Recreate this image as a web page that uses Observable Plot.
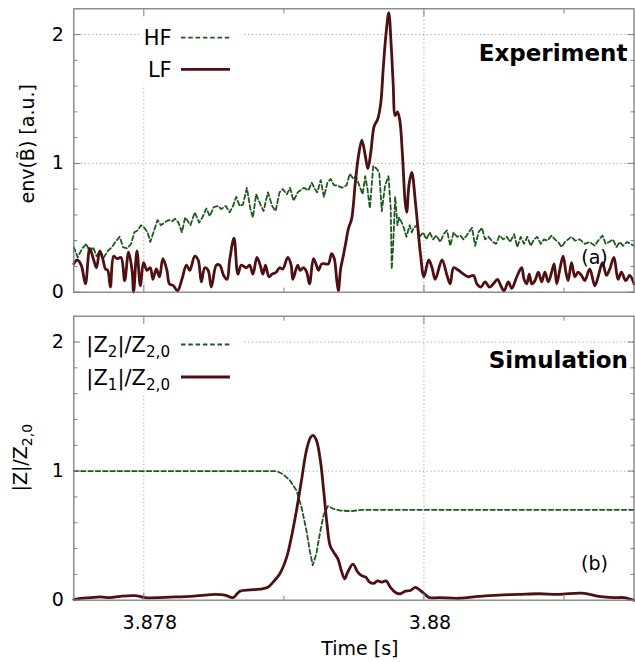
<!DOCTYPE html>
<html><head><meta charset="utf-8">
<script src="https://cdn.jsdelivr.net/npm/d3@7"></script>
<script src="https://cdn.jsdelivr.net/npm/@observablehq/plot@0.6"></script>
<style>
html,body{margin:0;padding:0;background:#fff;}
#chart{position:relative;width:635px;height:662px;background:#fff;}
#chart svg{position:absolute;left:0;}
</style></head><body><div id="chart"></div><script>
// ---------- data ----------
const xDomain = [3.8775, 3.8815];
const yDomain = [0, 2.2];
const xMajor = [3.878, 3.88];
const xMajorLabels = ["3.878", "3.88"];
const xMinor = [3.879, 3.881];
const yMajor = [0, 1, 2];
const yMajorLabels = ["0", "1", "2"];
const yMinor = [0.2, 0.4, 0.6, 0.8, 1.2, 1.4, 1.6, 1.8];
const yGrid = [1, 2];

// Experiment, LF (solid)
const lfTime = [3.8775,3.877524,3.877553,3.877583,3.877614,3.877642,3.877662,3.877685,3.877709,3.877726,
3.877742,3.877761,3.877785,3.877809,3.877837,3.877863,3.877891,3.877916,3.877927,3.877951,
3.877975,3.877998,3.878022,3.878046,3.878065,3.878089,3.878112,3.878136,3.878165,3.878183,
3.878212,3.87824,3.878272,3.878304,3.878328,3.878364,3.878388,3.878411,3.878435,3.878459,
3.878482,3.878518,3.878542,3.87857,3.878594,3.878613,3.878644,3.878672,3.878696,3.878731,
3.878755,3.878779,3.878807,3.878831,3.87885,3.878869,3.878893,3.878916,3.878945,3.878969,
3.878992,3.879028,3.879052,3.879064,3.879099,3.879116,3.87914,3.879163,3.879183,3.879211,
3.879229,3.879247,3.87927,3.879294,3.879318,3.879341,3.87936,3.879377,3.879389,3.879405,
3.879424,3.879443,3.87946,3.879484,3.87951,3.879533,3.879557,3.879581,3.8796,3.879621,
3.879645,3.879669,3.879692,3.879709,3.879728,3.879749,3.879765,3.87978,3.879795,3.879811,
3.879827,3.879847,3.879866,3.879877,3.879894,3.879913,3.879941,3.879975,3.88,3.880034,
3.880058,3.880081,3.880129,3.880165,3.880188,3.880212,3.880247,3.880283,3.880318,3.880354,
3.880378,3.880407,3.880437,3.880468,3.880496,3.880525,3.880549,3.880572,3.880603,3.880627,
3.880663,3.880698,3.880715,3.880734,3.880752,3.88077,3.880793,3.880817,3.880841,3.880864,
3.880888,3.880912,3.88093,3.880948,3.880971,3.880994,3.881014,3.88103,3.881054,3.881078,
3.881101,3.881125,3.881149,3.881184,3.88122,3.881244,3.881275,3.881303,3.881327,3.881357,
3.881386,3.88141,3.881441,3.881469,3.8815];
const lfValue = [0.22,0.25,0.21,0.065,0.34,0.25,0.19,0.32,0.25,0.18,
0.17,0.04,0.28,0.26,0.27,0.09,0.31,0.17,0,0.32,
0.05,0.23,0.17,0.19,0.10,0.18,0.12,0.26,0.17,0.065,
0.05,0.01,0.10,0.21,0.17,0.28,0.25,0.08,0.19,0.17,
0.04,0.21,0.21,0.13,0.10,0.25,0.42,0.14,0.21,0.19,
0.21,0.14,0.27,0.21,0.14,0.21,0.12,0.14,0.155,0.19,
0.18,0.27,0.21,0.10,0.21,0.17,0.19,0.155,0.065,0.26,
0.22,0.17,0.22,0.22,0.22,0.30,0.26,0.10,0.01,0.18,
0.28,0.39,0.49,0.57,0.85,1.06,1.18,1.06,0.96,1.09,
1.29,1.34,1.47,1.73,1.99,2.17,1.94,1.63,1.37,1.40,
1.34,1.06,0.70,0.62,0.84,0.93,0.68,0.30,0.12,0.25,
0.19,0.10,0.25,0.13,0.065,0.19,0.17,0.14,0.12,0.13,
0.065,0.04,0.08,0.04,0.065,0.10,0.05,0.01,0.08,0.03,
0.12,0.19,0.10,0.065,0.14,0.065,0.09,0.155,0.08,0.155,
0.08,0.155,0.22,0.065,0.18,0.28,0.155,0.09,0.23,0.12,
0.155,0.13,0.09,0.18,0.05,0.12,0.23,0.13,0.18,0.27,
0.10,0.155,0.09,0.13,0.065];

// Experiment, HF (dashed)
const hfTime = [3.8775,3.877528,3.87756,3.87759,3.877614,3.877638,3.877662,3.877685,3.877714,3.877742,
3.877773,3.877797,3.877827,3.877852,3.87788,3.877909,3.877932,3.877956,3.87798,3.878003,
3.878027,3.878046,3.878069,3.878098,3.878122,3.878146,3.878176,3.8782,3.878224,3.878247,
3.878272,3.878295,3.878309,3.878333,3.878364,3.878395,3.878418,3.878447,3.878471,3.878499,
3.87853,3.878553,3.878585,3.878613,3.878637,3.87866,3.878684,3.878708,3.878736,3.87876,
3.878779,3.878802,3.878831,3.878855,3.878886,3.878916,3.878941,3.878969,3.878992,3.879021,
3.879044,3.879069,3.879099,3.879116,3.879144,3.879175,3.879199,3.879222,3.879239,3.879263,
3.879286,3.879311,3.879334,3.879358,3.879382,3.879412,3.879448,3.879471,3.879496,3.879514,
3.879538,3.879562,3.879581,3.879597,3.879614,3.879638,3.879661,3.879681,3.879699,3.879723,
3.879747,3.879763,3.87977,3.87978,3.879795,3.879811,3.879823,3.879842,3.879859,3.879875,
3.879898,3.879913,3.879927,3.879951,3.87997,3.879994,3.880017,3.880041,3.880065,3.880089,
3.880117,3.88014,3.880165,3.880188,3.880212,3.880236,3.880259,3.880283,3.880311,3.880343,
3.880366,3.88039,3.880414,3.880437,3.880461,3.880492,3.880516,3.880539,3.880567,3.880592,
3.880615,3.880644,3.880667,3.880691,3.880715,3.880738,3.880762,3.880786,3.880809,3.880834,
3.880857,3.880881,3.880912,3.880935,3.880959,3.880983,3.881007,3.88103,3.881054,3.881078,
3.881113,3.881149,3.881184,3.88122,3.881244,3.881275,3.881298,3.881322,3.88135,3.881375,
3.881398,3.881422,3.88145,3.8815];
const hfValue = [0.35,0.27,0.34,0.375,0.31,0.35,0.28,0.32,0.27,0.32,
0.35,0.39,0.43,0.35,0.34,0.375,0.465,0.48,0.52,0.50,
0.465,0.39,0.465,0.56,0.52,0.54,0.56,0.55,0.57,0.54,
0.465,0.58,0.56,0.52,0.62,0.54,0.58,0.65,0.59,0.66,
0.67,0.645,0.67,0.62,0.67,0.74,0.67,0.68,0.81,0.65,
0.58,0.76,0.685,0.63,0.775,0.67,0.63,0.775,0.80,0.76,
0.81,0.71,0.775,0.79,0.81,0.79,0.85,0.80,0.775,0.87,
0.74,0.85,0.88,0.83,0.83,0.81,0.83,0.92,0.88,0.90,
0.83,0.76,0.90,0.80,0.65,0.98,0.96,0.93,0.63,0.83,
0.90,0.65,0.18,0.36,0.74,0.52,0.58,0.54,0.49,0.43,
0.52,0.465,0.50,0.52,0.43,0.465,0.41,0.465,0.41,0.44,
0.39,0.45,0.48,0.36,0.465,0.43,0.44,0.41,0.45,0.50,
0.36,0.465,0.50,0.41,0.43,0.39,0.375,0.44,0.41,0.43,
0.39,0.45,0.35,0.43,0.375,0.43,0.36,0.41,0.43,0.375,
0.41,0.40,0.44,0.41,0.39,0.35,0.39,0.41,0.43,0.40,
0.41,0.375,0.39,0.36,0.40,0.44,0.375,0.39,0.41,0.35,
0.39,0.36,0.39,0.36];

// Simulation, |Z2|/Z2,0 (dashed)
const z2Time = [3.8775,3.8789,3.878948,3.878995,3.879042,3.87909,3.879126,3.879161,3.879185,3.879206,
3.879232,3.879256,3.879284,3.879315,3.87935,3.879398,3.879481,3.879555,3.8815];
const z2Value = [1.0,1.0,1.0,0.975,0.93,0.85,0.72,0.54,0.385,0.27,
0.36,0.51,0.66,0.73,0.71,0.695,0.69,0.70,0.70];

// Simulation, |Z1|/Z2,0 (solid)
const z1Time = [3.8775,3.877548,3.877619,3.87769,3.877761,3.877832,3.877939,3.87801,3.878117,3.878224,
3.878331,3.878437,3.878509,3.87858,3.878637,3.878686,3.878758,3.878829,3.878886,3.878923,
3.878971,3.879019,3.879054,3.87909,3.879126,3.879161,3.87919,3.879208,3.879232,3.879261,
3.879284,3.879308,3.879331,3.879363,3.879386,3.87941,3.879434,3.879457,3.879493,3.879526,
3.879555,3.879583,3.879612,3.87964,3.879669,3.879697,3.879729,3.879761,3.879797,3.879832,
3.879868,3.879903,3.879939,3.879975,3.880003,3.880039,3.88011,3.880252,3.880395,3.880537,
3.880679,3.880822,3.880964,3.881128,3.881249,3.881355,3.881427,3.8815];
const z1Value = [0.005,0.015,0.02,0.025,0.02,0.03,0.035,0.02,0.02,0.025,
0.03,0.04,0.045,0.04,0.02,0.07,0.08,0.085,0.10,0.14,
0.205,0.33,0.49,0.695,0.93,1.16,1.26,1.277,1.24,1.08,
0.85,0.59,0.42,0.36,0.32,0.23,0.166,0.22,0.28,0.22,
0.19,0.18,0.14,0.13,0.15,0.14,0.15,0.10,0.06,0.05,
0.07,0.075,0.10,0.075,0.05,0.02,0.02,0.015,0.03,0.04,
0.045,0.05,0.045,0.055,0.03,0.02,0.02,0.0];

// ---------- style ----------
const hfColor = "#1d5a1d";
const lfColor = "#4e1012";
const gridColor = "#a0a0a0";
const frameColor = "#7c7c7c";
const FONT = "'DejaVu Sans', sans-serif";
const DASH = "4.5,2.8";

const zip = (T, V) => T.map((t, i) => ({t, v: V[i]}));

function axisMarks(showXLabels) {
  const tk = {fill: "none", stroke: frameColor, strokeWidth: 1, label: null};
  const m = [
    Plot.axisY({ticks: yMajor, anchor: "left", tickSize: 7, dx: 7, ...tk}),
    Plot.axisY({ticks: yMinor, anchor: "left", tickSize: 4, dx: 4, ...tk}),
    Plot.axisY({ticks: yMajor, anchor: "right", tickSize: 7, dx: -7, ...tk}),
    Plot.axisY({ticks: yMinor, anchor: "right", tickSize: 4, dx: -4, ...tk}),
    Plot.axisX({ticks: xMajor, anchor: "bottom", tickSize: 7, dy: -7, ...tk}),
    Plot.axisX({ticks: xMinor, anchor: "bottom", tickSize: 4, dy: -4, ...tk}),
    Plot.axisX({ticks: xMajor, anchor: "top", tickSize: 7, dy: 7, ...tk}),
    Plot.axisX({ticks: xMinor, anchor: "top", tickSize: 4, dy: 4, ...tk}),
    Plot.axisY({ticks: yMajor, anchor: "left", tickSize: 0, tickPadding: 10, label: null, fill: "#000", fontSize: 19,
      tickFormat: d => yMajorLabels[yMajor.indexOf(d)]})
  ];
  if (showXLabels) m.push(Plot.axisX({ticks: xMajor, anchor: "bottom", tickSize: 0, tickPadding: 15, dx: 6,
    tickFormat: d => xMajorLabels[xMajor.indexOf(d)], label: null, fill: "#000", fontSize: 19}));
  return m;
}

function panel({height, marginTop, marginBottom, dashed, solid, extra}) {
  return Plot.plot({
    width: 635, height, marginLeft: 73.3, marginRight: 1.5, marginTop, marginBottom,
    style: {fontFamily: FONT, fontSize: "19px", color: "#000", background: "transparent", overflow: "visible"},
    x: {domain: xDomain},
    y: {domain: yDomain},
    marks: [
      Plot.ruleX(xMajor, {stroke: gridColor, strokeWidth: 1, strokeDasharray: "1.2,2.6"}),
      Plot.ruleY(yGrid, {stroke: gridColor, strokeWidth: 1, strokeDasharray: "1.2,2.6"}),
      Plot.line(dashed, {x: "t", y: "v", stroke: hfColor, strokeWidth: 1.8, strokeDasharray: DASH}),
      Plot.line(solid, {x: "t", y: "v", stroke: lfColor, strokeWidth: 2.8, curve: "catmull-rom"}),
      Plot.frame({stroke: frameColor, strokeWidth: 1.3}),
      ...axisMarks(extra.xLabels),
      ...extra.marks
    ]
  });
}

// ---------- top panel ----------
const topSvg = panel({
  height: 300, marginTop: 8.3, marginBottom: 8.3,
  dashed: zip(hfTime, hfValue), solid: zip(lfTime, lfValue),
  extra: {xLabels: false, marks: [
    Plot.text(["Experiment"], {frameAnchor: "top-right", dx: -6.5, dy: 51.7, textAnchor: "end", lineAnchor: "bottom", fontWeight: "bold", fontSize: 23}),
    Plot.text(["(a)"], {frameAnchor: "bottom-right", dx: -39.5, dy: -28.7, textAnchor: "middle", lineAnchor: "bottom", fontSize: 19}),
    Plot.text(["env(B\u0303) [a.u.]"], {frameAnchor: "left", rotate: -90, dx: -40.3, dy: -6.7, textAnchor: "middle", lineAnchor: "bottom", fontSize: 19})
  ]}
});

// ---------- bottom panel ----------
const bottomSvg = panel({
  height: 362, marginTop: 15.7, marginBottom: 62.3,
  dashed: zip(z2Time, z2Value), solid: zip(z1Time, z1Value),
  extra: {xLabels: true, marks: [
    Plot.text(["Simulation"], {frameAnchor: "top-right", dx: -6, dy: 51.6, textAnchor: "end", lineAnchor: "bottom", fontWeight: "bold", fontSize: 23}),
    Plot.text(["(b)"], {frameAnchor: "bottom-right", dx: -39.5, dy: -30.4, textAnchor: "middle", lineAnchor: "bottom", fontSize: 19}),
    Plot.text(["Time [s]"], {frameAnchor: "bottom", dx: 6, dy: 54.3, textAnchor: "middle", lineAnchor: "bottom", fontSize: 19})
  ]}
});

topSvg.style.top = "0px";
bottomSvg.style.top = "300px";
document.getElementById("chart").append(topSvg, bottomSvg);

// ---------- keys (gnuplot-style, opaque box) ----------
function addKey(svg, box, rows, fontSize) {
  const s = d3.select(svg);
  const frame = svg.querySelector('[aria-label="frame"]');
  const rect = document.createElementNS("http://www.w3.org/2000/svg", "rect");
  d3.select(rect).attr("x", box.x).attr("y", box.y).attr("width", box.w).attr("height", box.h).attr("fill", "#fff");
  if (frame && frame.parentNode) frame.parentNode.insertBefore(rect, frame); else svg.appendChild(rect);
  const g = s.append("g").attr("font-family", FONT).attr("font-size", fontSize);
  rows.forEach(r => {
    const t = g.append("text").attr("x", r.textX).attr("y", r.y + fontSize * 0.36).attr("text-anchor", "end").attr("fill", "#000");
    let shifted = 0;
    r.parts.forEach(p => {
      const ts = t.append("tspan").text(p.t);
      if (p.sub) { ts.attr("font-size", fontSize * 0.72).attr("dy", 5 - shifted); shifted = 5; }
      else if (shifted) { ts.attr("dy", -shifted); shifted = 0; }
    });
    g.append("line").attr("x1", r.x1).attr("x2", r.x2).attr("y1", r.y).attr("y2", r.y)
      .attr("stroke", r.color).attr("stroke-width", r.width).attr("stroke-dasharray", r.dash || null);
  });
}

addKey(topSvg, {x: 140, y: 9.5, w: 103, h: 75.5}, [
  {parts: [{t: "HF"}], y: 37.7, textX: 171.7, x1: 181, x2: 230, color: hfColor, width: 1.8, dash: DASH},
  {parts: [{t: "LF"}], y: 69.3, textX: 171.7, x1: 181, x2: 230, color: lfColor, width: 2.8}
], 21);

addKey(bottomSvg, {x: 74.5, y: 16.5, w: 168, h: 77}, [
  {parts: [{t: "|Z"}, {t: "2", sub: true}, {t: "|/Z"}, {t: "2,0", sub: true}], y: 44.5, textX: 170, x1: 181, x2: 230, color: hfColor, width: 1.8, dash: DASH},
  {parts: [{t: "|Z"}, {t: "1", sub: true}, {t: "|/Z"}, {t: "2,0", sub: true}], y: 77, textX: 170, x1: 181, x2: 230, color: lfColor, width: 2.8}
], 21);

// rotated y label with subscript for the lower panel
(function () {
  const t = d3.select(bottomSvg).append("text")
    .attr("transform", "translate(27,157.7) rotate(-90)")
    .attr("text-anchor", "middle").attr("font-family", FONT).attr("font-size", 19).attr("fill", "#000");
  t.append("tspan").text("|Z|/Z");
  t.append("tspan").text("2,0").attr("font-size", 14).attr("dy", 5);
})();
</script></body></html>
